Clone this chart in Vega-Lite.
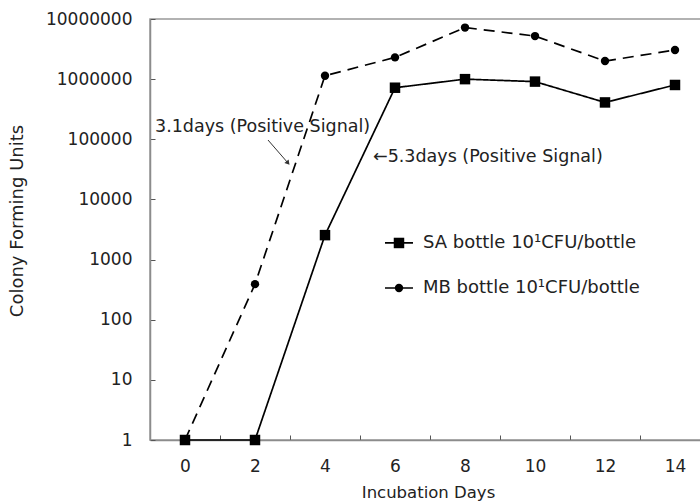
{
  "$schema": "https://vega.github.io/schema/vega-lite/v6.json",
  "width": 560,
  "height": 421,
  "autosize": "none",
  "padding": {"left": 150, "top": 19, "right": 0, "bottom": 64},
  "background": "white",
  "config": {
    "font": "DejaVu Sans",
    "view": {"stroke": "#999999", "strokeWidth": 1.5},
    "axis": {"grid": false}
  },
  "datasets": {
    "series": [
      {"day": 0, "cfu": 1, "series": "SA"},
      {"day": 2, "cfu": 1, "series": "SA"},
      {"day": 4, "cfu": 2550, "series": "SA"},
      {"day": 6, "cfu": 720000, "series": "SA"},
      {"day": 8, "cfu": 1000000, "series": "SA"},
      {"day": 10, "cfu": 910000, "series": "SA"},
      {"day": 12, "cfu": 410000, "series": "SA"},
      {"day": 14, "cfu": 800000, "series": "SA"},
      {"day": 0, "cfu": 1, "series": "MB"},
      {"day": 2, "cfu": 390, "series": "MB"},
      {"day": 4, "cfu": 1140000, "series": "MB"},
      {"day": 6, "cfu": 2300000, "series": "MB"},
      {"day": 8, "cfu": 7200000, "series": "MB"},
      {"day": 10, "cfu": 5200000, "series": "MB"},
      {"day": 12, "cfu": 2000000, "series": "MB"},
      {"day": 14, "cfu": 3050000, "series": "MB"}
    ],
    "legend": [
      {"x": 5.714, "x2": 6.514, "xm": 6.114, "xt": 6.8, "y": 1888, "series": "SA", "label": "SA bottle 10¹CFU/bottle"},
      {"x": 5.714, "x2": 6.514, "xm": 6.114, "xt": 6.8, "y": 337, "series": "MB", "label": "MB bottle 10¹CFU/bottle"}
    ],
    "notes": [
      {"x": -0.857, "y": 160000, "label": "3.1days (Positive Signal)"},
      {"x": 5.371, "y": 49800, "label": "←5.3days (Positive Signal)"}
    ],
    "arrow": [
      {"x": 2.371, "y": 97300, "x2": 2.943, "y2": 40300}
    ]
  },
  "layer": [
    {
      "data": {"name": "series"},
      "mark": {"type": "line", "color": "black", "strokeWidth": 1.7},
      "encoding": {
        "x": {
          "field": "day", "type": "quantitative",
          "scale": {"domain": [-1, 15], "nice": false, "zero": false},
          "axis": {
            "values": [1, 3, 5, 7, 9, 11, 13, 15],
            "labelExpr": "format(datum.value - 1, 'd')",
            "labelOffset": -35,
            "tickSize": -5,
            "tickColor": "#555555",
            "labelPadding": 31.7,
            "labelBaseline": "middle",
            "labelFontSize": 17,
            "labelColor": "#222222",
            "labelFlush": false,
            "labelOverlap": false,
            "labelBound": false,
            "domainColor": "#8c8c8c",
            "domainWidth": 1.5,
            "title": "Incubation Days",
            "titleFontSize": 16.5,
            "titleFontWeight": "normal",
            "titleColor": "#222222",
            "titleX": 278,
            "titleY": 52,
            "titleBaseline": "middle",
            "titleAlign": "center"
          }
        },
        "y": {
          "field": "cfu", "type": "quantitative",
          "scale": {"type": "log", "domain": [1, 10000000], "nice": false},
          "axis": {
            "values": [1, 10, 100, 1000, 10000, 100000, 1000000, 10000000],
            "format": "d",
            "tickSize": -5,
            "tickColor": "#555555",
            "labelPadding": 23,
            "labelFontSize": 17,
            "labelColor": "#222222",
            "labelFlush": false,
            "labelOverlap": false,
            "labelBound": false,
            "domainColor": "#8c8c8c",
            "domainWidth": 1.5,
            "title": "Colony Forming Units",
            "titleFontSize": 18,
            "titleFontWeight": "normal",
            "titleColor": "#222222",
            "titleX": -133,
            "titleY": 201.5,
            "titleBaseline": "middle",
            "titleAlign": "center"
          }
        },
        "detail": {"field": "series"},
        "strokeDash": {
          "field": "series", "type": "nominal",
          "scale": {"domain": ["SA", "MB"], "range": [[1, 0], [11, 7]]},
          "legend": null
        }
      }
    },
    {
      "data": {"name": "series"},
      "transform": [{"filter": "datum.series === 'SA'"}],
      "mark": {"type": "point", "shape": "square", "filled": true, "color": "black", "opacity": 1, "size": 110},
      "encoding": {
        "x": {"field": "day", "type": "quantitative"},
        "y": {"field": "cfu", "type": "quantitative"}
      }
    },
    {
      "data": {"name": "series"},
      "transform": [{"filter": "datum.series === 'MB'"}],
      "mark": {"type": "point", "shape": "circle", "filled": true, "color": "black", "opacity": 1, "size": 70},
      "encoding": {
        "x": {"field": "day", "type": "quantitative"},
        "y": {"field": "cfu", "type": "quantitative"}
      }
    },
    {
      "data": {"name": "legend"},
      "mark": {"type": "rule", "color": "black", "strokeWidth": 1.7},
      "encoding": {
        "x": {"field": "x", "type": "quantitative"},
        "x2": {"field": "x2"},
        "y": {"field": "y", "type": "quantitative"},
        "strokeDash": {
          "field": "series", "type": "nominal",
          "scale": {"domain": ["SA", "MB"], "range": [[1, 0], [11, 7]]},
          "legend": null
        }
      }
    },
    {
      "data": {"name": "legend"},
      "transform": [{"filter": "datum.series === 'SA'"}],
      "mark": {"type": "point", "shape": "square", "filled": true, "color": "black", "opacity": 1, "size": 110},
      "encoding": {
        "x": {"field": "xm", "type": "quantitative"},
        "y": {"field": "y", "type": "quantitative"}
      }
    },
    {
      "data": {"name": "legend"},
      "transform": [{"filter": "datum.series === 'MB'"}],
      "mark": {"type": "point", "shape": "circle", "filled": true, "color": "black", "opacity": 1, "size": 70},
      "encoding": {
        "x": {"field": "xm", "type": "quantitative"},
        "y": {"field": "y", "type": "quantitative"}
      }
    },
    {
      "data": {"name": "legend"},
      "mark": {"type": "text", "align": "left", "baseline": "middle", "fontSize": 18, "color": "#222222"},
      "encoding": {
        "x": {"field": "xt", "type": "quantitative"},
        "y": {"field": "y", "type": "quantitative"},
        "text": {"field": "label"}
      }
    },
    {
      "data": {"name": "notes"},
      "mark": {"type": "text", "align": "left", "baseline": "middle", "fontSize": 17.5, "color": "#222222"},
      "encoding": {
        "x": {"field": "x", "type": "quantitative"},
        "y": {"field": "y", "type": "quantitative"},
        "text": {"field": "label"}
      }
    },
    {
      "data": {"name": "arrow"},
      "mark": {"type": "rule", "color": "#333333", "strokeWidth": 1},
      "encoding": {
        "x": {"field": "x", "type": "quantitative"},
        "y": {"field": "y", "type": "quantitative"},
        "x2": {"field": "x2"},
        "y2": {"field": "y2"}
      }
    },
    {
      "data": {"name": "arrow"},
      "mark": {"type": "point", "shape": "triangle-down", "filled": true, "color": "#333333", "opacity": 1, "size": 30, "angle": 320},
      "encoding": {
        "x": {"field": "x2", "type": "quantitative"},
        "y": {"field": "y2", "type": "quantitative"}
      }
    }
  ]
}
